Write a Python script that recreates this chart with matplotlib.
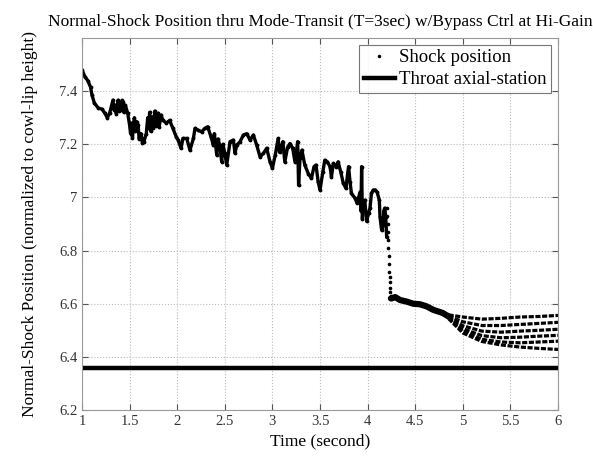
import numpy as np
import matplotlib
matplotlib.use("Agg")
import matplotlib.pyplot as plt
from matplotlib.lines import Line2D

plt.rcParams['font.family'] = ['Liberation Serif', 'DejaVu Serif']

# shock position (time in s, position normalized to cowl-lip height)
t_trace = [1.00, 1.03, 1.06, 1.09, 1.105, 1.13, 1.17, 1.21, 1.24, 1.266, 1.29, 1.325, 1.335, 1.35, 1.36,
           1.378, 1.39, 1.406, 1.42, 1.43, 1.44, 1.455, 1.48, 1.50, 1.51, 1.52, 1.53, 1.55, 1.56, 1.575,
           1.59, 1.60, 1.62, 1.635, 1.65, 1.675, 1.69, 1.70, 1.71, 1.72, 1.74, 1.75, 1.765, 1.78, 1.80,
           1.81, 1.83, 1.85, 1.886, 1.92, 1.955, 1.99, 2.01, 2.04, 2.06, 2.10, 2.134, 2.17, 2.187, 2.22,
           2.257, 2.29, 2.32, 2.355, 2.38, 2.39, 2.415, 2.43, 2.45, 2.467, 2.48, 2.50, 2.52, 2.555, 2.59,
           2.607, 2.625, 2.66, 2.695, 2.73, 2.765, 2.80, 2.835, 2.87, 2.905, 2.94, 2.975, 3.00, 3.03, 3.06,
           3.075, 3.09, 3.11, 3.13, 3.16, 3.185, 3.213, 3.237, 3.255, 3.265, 3.275, 3.29, 3.31, 3.34, 3.377,
           3.41, 3.437, 3.458, 3.48, 3.50, 3.53, 3.55, 3.577, 3.605, 3.62, 3.64, 3.668, 3.69, 3.717, 3.745,
           3.773, 3.79, 3.80, 3.815, 3.83, 3.868, 3.89, 3.92, 3.93, 3.937, 3.945, 3.955, 3.97, 3.99, 4.01,
           4.025, 4.04, 4.06, 4.08, 4.10, 4.123, 4.13, 4.147, 4.165, 4.17, 4.18, 4.19, 4.20]
y_trace = [7.48, 7.455, 7.44, 7.415, 7.385, 7.355, 7.337, 7.332, 7.317, 7.30, 7.317, 7.366, 7.33, 7.347, 7.315,
           7.366, 7.325, 7.33, 7.365, 7.36, 7.32, 7.347, 7.317, 7.272, 7.24, 7.28, 7.225, 7.30, 7.25, 7.285,
           7.272, 7.22, 7.24, 7.205, 7.21, 7.24, 7.30, 7.26, 7.32, 7.25, 7.303, 7.26, 7.325, 7.27, 7.317,
           7.265, 7.31, 7.29, 7.28, 7.29, 7.26, 7.228, 7.216, 7.185, 7.222, 7.222, 7.178, 7.222, 7.26, 7.253,
           7.247, 7.26, 7.266, 7.228, 7.197, 7.24, 7.16, 7.22, 7.19, 7.134, 7.20, 7.166, 7.122, 7.21, 7.216,
           7.166, 7.197, 7.21, 7.235, 7.24, 7.216, 7.235, 7.197, 7.153, 7.166, 7.185, 7.134, 7.11, 7.16, 7.222,
           7.17, 7.185, 7.21, 7.134, 7.19, 7.203, 7.185, 7.134, 7.18, 7.21, 7.046, 7.15, 7.178, 7.122, 7.09,
           7.072, 7.116, 7.122, 7.06, 7.028, 7.097, 7.14, 7.134, 7.116, 7.078, 7.128, 7.116, 7.134, 7.097, 7.053,
           7.034, 7.09, 7.116, 7.06, 7.015, 6.997, 6.978, 7.02, 6.95, 7.116, 6.92, 6.984, 6.99, 6.91, 6.94,
           6.96, 7.015, 7.028, 7.028, 7.02, 6.99, 6.928, 6.877, 6.896, 6.95, 6.96, 6.928, 6.852]

# sparse samples during the jump
t_jump = [4.201, 4.205, 4.209, 4.212, 4.215, 4.218, 4.221, 4.224, 4.227, 4.230, 4.233, 4.236, 4.239, 4.242]
y_jump = [6.96, 6.93, 6.90, 6.87, 6.84, 6.81, 6.78, 6.75, 6.72, 6.70, 6.68, 6.66, 6.645, 6.63]

# after the jump
t_after = [4.245, 4.25, 4.29, 4.34, 4.41, 4.48, 4.55, 4.62, 4.69, 4.79, 4.85]
y_after = [6.62, 6.62, 6.625, 6.614, 6.608, 6.60, 6.598, 6.59, 6.577, 6.565, 6.552]

# oscillation band at the end, drawn as stripes
t_band = [4.85, 5.0, 5.2, 5.4, 5.6, 5.8, 6.0]
stripe_1 = [6.558, 6.550, 6.542, 6.545, 6.550, 6.552, 6.556]
stripe_2 = [6.554, 6.532, 6.518, 6.518, 6.522, 6.526, 6.530]
stripe_3 = [6.551, 6.517, 6.497, 6.493, 6.497, 6.500, 6.504]
stripe_4 = [6.548, 6.506, 6.480, 6.472, 6.474, 6.478, 6.481]
stripe_5 = [6.546, 6.498, 6.466, 6.456, 6.453, 6.456, 6.459]
stripe_6 = [6.544, 6.490, 6.458, 6.445, 6.437, 6.432, 6.428]

throat_x = [1, 6]
throat_y = [6.36, 6.36]

xticks = [1, 1.5, 2, 2.5, 3, 3.5, 4, 4.5, 5, 5.5, 6]
xlabels = ['1', '1.5', '2', '2.5', '3', '3.5', '4', '4.5', '5', '5.5', '6']
yticks = [6.2, 6.4, 6.6, 6.8, 7.0, 7.2, 7.4]
ylabels = ['6.2', '6.4', '6.6', '6.8', '7', '7.2', '7.4']

fig = plt.figure(figsize=(5.93, 4.57), dpi=100)
ax = fig.add_axes([0.1383, 0.1028, 0.8027, 0.814])

ax.plot(t_trace, y_trace, color='black', lw=2.4, solid_joinstyle='round')
ax.plot(t_trace, y_trace, '.', color='black', ms=3.5)
ax.plot(t_jump, y_jump, '.', color='black', ms=3.2)
ax.plot(t_after, y_after, color='black', lw=4.5, solid_capstyle='round')
for s in [stripe_1, stripe_2, stripe_3, stripe_4, stripe_5, stripe_6]:
    ax.plot(t_band, s, color='black', lw=2.3, ls=(0, (1.6, 0.5)))

ax.plot(throat_x, throat_y, color='black', lw=3.2)

ax.set_xlim(1, 6)
ax.set_ylim(6.2, 7.6)
ax.set_xticks(xticks)
ax.set_xticklabels(xlabels)
ax.set_yticks(yticks)
ax.set_yticklabels(ylabels)
ax.tick_params(direction='in', top=True, right=True, labelsize=10.5,
               colors='#555555', labelcolor='#333333', length=4)
for sp in ax.spines.values():
    sp.set_color('#999999')
ax.grid(True, ls=':', color='#bbbbbb', lw=0.8)

ax.set_title('Normal-Shock Position thru Mode-Transit (T=3sec) w/Bypass Ctrl at Hi-Gain',
             fontsize=12.5, pad=9)
ax.set_xlabel('Time (second)', fontsize=12.5)
ax.set_ylabel('Normal-Shock Position (normalized to cowl-lip height)', fontsize=12.5, labelpad=15)

handles = [Line2D([], [], ls='none', marker='.', ms=3, color='black'),
           Line2D([], [], color='black', lw=3.2)]
leg = ax.legend(handles, ['Shock position', 'Throat axial-station'], loc='upper right',
                fontsize=13.5, frameon=True, fancybox=False, edgecolor='#555555',
                handlelength=1.7, handletextpad=0.2, borderpad=0.25, labelspacing=0.25,
                borderaxespad=0.35)
leg.get_frame().set_linewidth(0.8)

fig.savefig('out.png', dpi=100)
